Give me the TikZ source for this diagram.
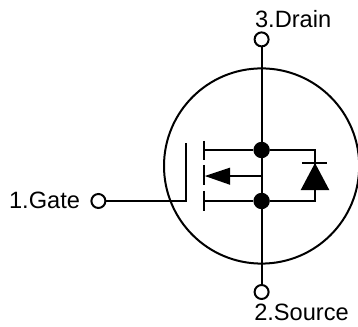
\documentclass[tikz,border=0pt]{standalone}
\usepackage{fontspec}
\setmainfont{Liberation Sans}
\usepackage{tikz}
\usetikzlibrary{calc}

\begin{document}
\begin{tikzpicture}

\tikzstyle{wire} = [line width=0.05cm, line cap=butt]
\tikzstyle{pinhole} = [circle, draw=black, line width=0.05cm, fill=white, minimum size=0.35cm, inner sep=0pt]
\tikzstyle{joint} = [circle, fill=black, minimum size=0.41cm, inner sep=0pt]
\tikzstyle{pinlabel} = [anchor=base west, inner sep=0pt, font=\fontsize{16.8pt}{18pt}\selectfont]

\useasboundingbox (0,0) rectangle (8.95,8.175);

\node (body) [circle, draw=black, line width=0.05cm, minimum size=4.88cm, inner sep=0pt] at (6.54,4.025) {};
\node (topjoint) [joint] at (6.54,4.425) {};
\node (botjoint) [joint] at (6.54,3.15) {};
\node (drain) [pinhole] at (6.54,7.19) {};
\node (source) [pinhole] at (6.54,0.875) {};
\node (gate) [pinhole] at (2.46,3.15) {};

\node (drainlabel) [pinlabel] at (6.37,7.48) {3.Drain};
\node (sourcelabel) [pinlabel] at (6.35,0.157) {2.Source};
\node (gatelabel) [pinlabel] at (0.22,2.97) {1.Gate};

% channel
\coordinate (gatecorner) at (4.65,3.15);
\coordinate (gatetop) at (4.65,4.6);
\coordinate (chan) at (5.09,3.15);
\coordinate (chantop) at (5.09,4.425);
\coordinate (chanmid) at (5.12,3.775);
\coordinate (arrowend) at (6.54,3.775);
\coordinate (cathode) at (7.875,4.1);

\draw [wire] (drain) -- (topjoint);
\draw [wire] (topjoint) -- (botjoint);
\draw [wire] (botjoint) -- (source);
\draw [wire] (gate) -- (gatecorner) -- (gatetop);
\draw [wire] (5.09,4.65) -- (5.09,4.18);
\draw [wire] (5.09,4.05) -- (5.09,3.55);
\draw [wire] (5.09,3.4) -- (5.09,2.91);
\draw [wire] (chantop) -- (topjoint);
\draw [wire] (chan) -- (botjoint);
\draw [wire] (topjoint) -| (cathode);
\draw [wire] (botjoint) -| (cathode);
\draw [wire] (arrowend) -- ($(chanmid)+(0.6,0)$);
\draw [wire] (arrowend) -- (botjoint);

% arrow and diode
\fill (chanmid) -- ++(0.63,0.21) -- ++(0,-0.43) -- cycle;
\fill (cathode) -- ++(-0.36,-0.68) -- ++(0.72,0) -- cycle;
\draw [wire] ($(cathode)+(-0.33,0)$) -- ($(cathode)+(0.31,0)$);

\end{tikzpicture}
\end{document}
